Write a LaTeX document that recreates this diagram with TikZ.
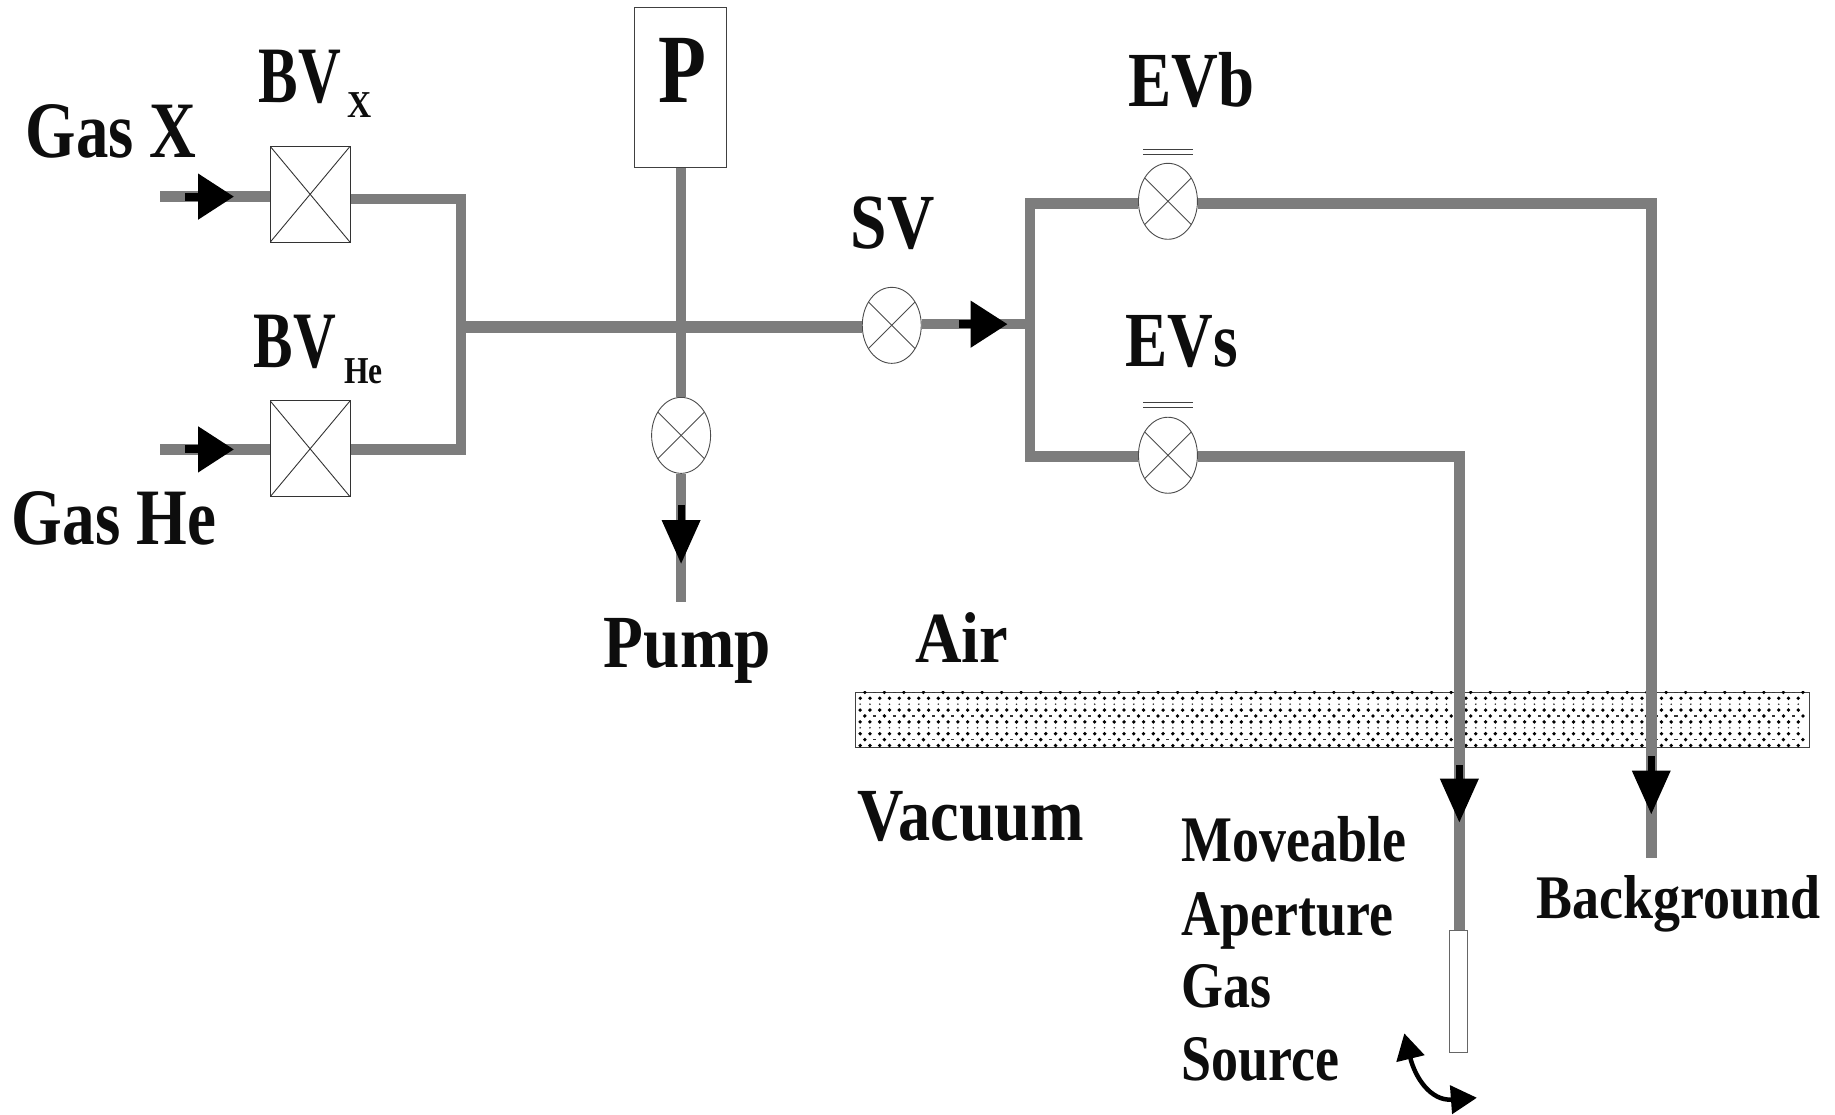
\documentclass[tikz,border=0pt]{standalone}
\usepackage{fontspec}
\setmainfont{Liberation Serif}[BoldFont={Liberation Serif Bold}]
\usetikzlibrary{arrows.meta,shapes.geometric}
\definecolor{pipegray}{gray}{0.49}
\definecolor{ink}{gray}{0.05}
\newcommand{\tl}[3]{\scalebox{#2}[1]{\fontsize{#1pt}{#1pt}\selectfont\bfseries #3}}
\tikzset{
  lab/.style={anchor=base west,inner sep=0,outer sep=0,text=ink},
  pipe/.style={draw=pipegray,line width=10.5pt,line cap=butt,line join=miter},
  boxvalve/.style={draw=black!80,line width=.9pt,fill=white,rectangle,minimum width=80pt,minimum height=96pt,inner sep=0,
    path picture={\draw[black!80,line width=.9pt] (path picture bounding box.north west)--(path picture bounding box.south east)
      (path picture bounding box.north east)--(path picture bounding box.south west);}},
  roundvalve/.style={draw=black!70,line width=.9pt,fill=white,ellipse,minimum width=59pt,minimum height=76pt,inner sep=0,
    path picture={\draw[black!70,line width=.9pt] ([shift={(-50pt,-50pt)}]path picture bounding box.center)--([shift={(50pt,50pt)}]path picture bounding box.center)
      ([shift={(-50pt,50pt)}]path picture bounding box.center)--([shift={(50pt,-50pt)}]path picture bounding box.center);}},
  flow/.style n args={3}{draw=black,line width=#3,-{Triangle[length=#1,width=#2]}},
  bars/.style={draw=black!75,line width=1.1pt},
}
\begin{document}
\begin{tikzpicture}[x=1.1703pt,y=-1.1703pt]
\useasboundingbox (0,0) rectangle (1568,952);
% hatched band
\node[draw=black!75,line width=1pt,fill=white,rectangle,inner sep=0,minimum width=954pt,minimum height=55pt,anchor=north west] (band) at (731,591) {};
\begin{scope}
\clip (band.north west) rectangle (band.south east);
\foreach \rw in {0,4,8}{
  \foreach \k in {0,...,48}{
    \fill[black] ({739+\k*16.7},{591.6+\rw*5.05}) circle[radius=1.9pt];
    \fill[black!80] ({747.3+\k*16.7-1.2},{591.6+\rw*5.05-.6}) rectangle ++(2.6,1.2);
  }
}
\foreach \rw in {1,3,5,7,9}{
  \foreach \k in {0,...,96}{
    \fill[black] ({735+\k*8.35},{591.6+\rw*5.05}) circle[radius=1.9pt];
  }
}
\foreach \rw in {2,6}{
  \foreach \k in {0,...,96}{
    \fill[black!80] ({735+\k*8.35},{591.6+\rw*5.05}) circle[radius=.9pt];
  }
}
\end{scope}
% fixed points
\coordinate (xin) at (137,168);
\coordinate (hein) at (137,384);
\coordinate (jl) at (394,279.5);
\coordinate (jlt) at (394,170);
\coordinate (jlb) at (394,384);
\coordinate (pumpend) at (582,514);
\coordinate (jr) at (880,277);
\coordinate (jrt) at (880,174);
\coordinate (jrb) at (880,390);
\coordinate (bgc) at (1411,174);
\coordinate (bgend) at (1411,733);
\coordinate (msc) at (1247,390);
% components
\node[boxvalve] (bvx) at (265,166) {};
\node[boxvalve] (bvhe) at (265,383.5) {};
\node[draw=black!75,line width=.9pt,fill=white,rectangle,inner sep=0,minimum width=92pt,minimum height=160pt] (pbox) at (581.5,75) {};
\node[roundvalve] (pv) at (582,372) {};
\node[roundvalve] (sv) at (762,278) {};
\node[roundvalve] (evb) at (998,172) {};
\node[roundvalve] (evs) at (998,389) {};
\node[draw=black!60,line width=.9pt,fill=white,rectangle,inner sep=0,minimum width=18pt,minimum height=122pt,anchor=north] (tube) at (1246.5,795) {};
% pipes
\draw[pipe] (xin) -- (bvx.west |- xin);
\draw[pipe] (hein) -- (bvhe.west |- hein);
\draw[pipe] (bvx.east |- jlt) -- (jlt) -- (jlb) -- (bvhe.east |- jlb);
\draw[pipe,line width=12pt] (jl) -- (sv.west |- jl);
\draw[pipe] (pv.north |- pbox.south) -- (pv.north);
\draw[pipe] (pv.south) -- (pumpend);
\draw[pipe] (sv.east |- jr) -- (jr);
\draw[pipe] (evb.west |- jrt) -- (jrt) -- (jrb) -- (evs.west |- jrb);
\draw[pipe] (evb.east |- bgc) -- (bgc) -- (bgend);
\draw[pipe] (evs.east |- msc) -- (msc) -- (tube.north -| msc);
% flow arrows
\coordinate (a1s) at (158,168); \coordinate (a1e) at (200,168);
\coordinate (a2s) at (158,384); \coordinate (a2e) at (200,384);
\coordinate (a3s) at (582,431.5); \coordinate (a3e) at (582,482);
\coordinate (a4s) at (819.5,277); \coordinate (a4e) at (861,277);
\coordinate (a5s) at (1247,654); \coordinate (a5e) at (1247,703);
\coordinate (a6s) at (1411,646); \coordinate (a6e) at (1411,696);
\draw[flow={36pt}{44pt}{8pt}] (a1s) -- (a1e);
\draw[flow={36pt}{44pt}{8pt}] (a2s) -- (a2e);
\draw[flow={44pt}{37pt}{7pt}] (a3s) -- (a3e);
\draw[flow={37pt}{45pt}{8pt}] (a4s) -- (a4e);
\draw[flow={44pt}{37pt}{7pt}] (a5s) -- (a5e);
\draw[flow={44pt}{37pt}{7pt}] (a6s) -- (a6e);
% bars above the valves
\coordinate (b1) at (977,128); \coordinate (b2) at (1019,128);
\coordinate (b3) at (977,132); \coordinate (b4) at (1019,132);
\coordinate (b5) at (977,344); \coordinate (b6) at (1019,344);
\coordinate (b7) at (977,348); \coordinate (b8) at (1019,348);
\draw[bars] (b1)--(b2) (b3)--(b4) (b5)--(b6) (b7)--(b8);
% swing arrow
\coordinate (s1) at (1200,883); \coordinate (s2) at (1262,938);
\draw[line width=4.5pt,black,{Triangle[length=26pt,width=28pt]}-{Triangle[length=26pt,width=28pt]}] (s1) .. controls (1209,920) and (1222,941) .. (s2);
% labels
\node[lab] (t1) at (22,135) {\tl{80}{.81}{Gas X}};
\node[lab] (t2) at (221,88) {\tl{80}{.74}{BV}};
\node[lab] (t3) at (297,100) {\tl{38}{.88}{X}};
\node[lab] (t4) at (217,314) {\tl{80}{.74}{BV}};
\node[lab] (t5) at (294,328) {\tl{38}{.83}{He}};
\node[lab] (t6) at (10,465) {\tl{80}{.815}{Gas He}};
\node[lab] (t7) at (563,88) {\tl{98}{.80}{P}};
\node[lab] (t8) at (964,91) {\tl{78}{.83}{EVb}};
\node[lab] (t9) at (727,212) {\tl{78}{.84}{SV}};
\node[lab] (t10) at (962,313) {\tl{78}{.81}{EVs}};
\node[lab] (t11) at (782,566) {\tl{72}{.895}{Air}};
\node[lab] (t12) at (516,570) {\tl{75}{.87}{Pump}};
\node[lab] (t13) at (733,718) {\tl{75}{.857}{Vacuum}};
\node[lab] (t14) at (1010,736) {\tl{65}{.83}{Moveable}};
\node[lab] (t15) at (1010,799) {\tl{65}{.83}{Aperture}};
\node[lab] (t16) at (1010,861) {\tl{65}{.83}{Gas}};
\node[lab] (t17) at (1010,923) {\tl{65}{.83}{Source}};
\node[lab] (t18) at (1313,785) {\tl{62}{.87}{Background}};
\end{tikzpicture}
\end{document}
